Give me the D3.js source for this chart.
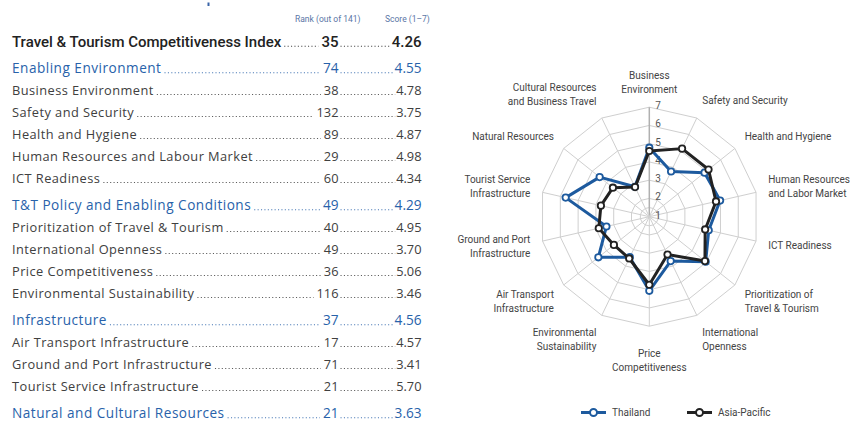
<!DOCTYPE html>
<html>
<head>
<meta charset="utf-8">
<script src="https://cdn.jsdelivr.net/npm/d3@7"></script>
<style>
  body { margin: 0; background: #fff; }
  svg { display: block; font-family: Roboto, "Open Sans", sans-serif; }
</style>
</head>
<body>
<div id="chart"></div>
<script>
// Table data
const rowLabels = ["Travel & Tourism Competitiveness Index", "Enabling Environment", "Business Environment",
    "Safety and Security", "Health and Hygiene", "Human Resources and Labour Market", "ICT Readiness",
    "T&T Policy and Enabling Conditions", "Prioritization of Travel & Tourism", "International Openness",
    "Price Competitiveness", "Environmental Sustainability", "Infrastructure", "Air Transport Infrastructure",
    "Ground and Port Infrastructure", "Tourist Service Infrastructure", "Natural and Cultural Resources"];
const rowRanks = [35, 74, 38, 132, 89, 29, 60, 49, 40, 49, 36, 116, 37, 17, 71, 21, 21];
const rowScores = ["4.26", "4.55", "4.78", "3.75", "4.87", "4.98", "4.34", "4.29", "4.95", "3.70",
    "5.06", "3.46", "4.56", "4.57", "3.41", "5.70", "3.63"];
const rowLevels = [0, 1, 2, 2, 2, 2, 2, 1, 2, 2, 2, 2, 1, 2, 2, 2, 1];

// Radar data
const radarAxes = ["Business|Environment", "Safety and Security", "Health and Hygiene",
    "Human Resources|and Labor Market", "ICT Readiness", "Prioritization of|Travel & Tourism",
    "International|Openness", "Price|Competitiveness", "Environmental|Sustainability",
    "Air Transport|Infrastructure", "Ground and Port|Infrastructure", "Tourist Service|Infrastructure",
    "Natural Resources", "Cultural Resources|and Business Travel"];
const thailand = [4.78, 3.75, 4.87, 4.98, 4.34, 4.95, 3.70, 5.06, 3.46, 4.57, 3.41, 5.70, 4.48, 2.82];
const asiaPacific = [4.60, 5.14, 5.15, 4.75, 4.14, 4.90, 3.30, 4.73, 3.54, 3.48, 3.84, 3.72, 3.55, 2.80];
const ringTicks = [1, 2, 3, 4, 5, 6, 7];

const svgWidth = 856;
const svgHeight = 421;

const blue = "#1d5a9e";
const dark = "#222";

const svg = d3.select("#chart")
    .append("svg")
    .attr("width", svgWidth)
    .attr("height", svgHeight);

// ---------- Left table ----------
const table = svg.append("g");
const labelX = 12;
const rankRight = 338.5;
const scoreRight = 421.5;

// small mark at the very top
table.append("rect")
    .attr("x", 207.5).attr("y", 2.5)
    .attr("width", 2).attr("height", 3.5)
    .attr("fill", "#3a64a8");

table.append("text")
    .attr("x", 295).attr("y", 22)
    .attr("font-size", 8.5)
    .attr("fill", "#5a76a6")
    .text("Rank (out of 141)");
table.append("text")
    .attr("x", 385).attr("y", 22)
    .attr("font-size", 8.5)
    .attr("fill", "#5a76a6")
    .text("Score (1\u20137)");

// row y positions
const rowY = [];
let yy = 41.5;
rowLevels.forEach((lv, i) => {
    if (i > 0) yy += (lv === 1 ? 27 : 22);
    rowY.push(yy);
});

const styleFor = lv => {
    if (lv === 0) return { family: "Roboto", size: 15, fill: "#222", weight: 500, ls: 0 };
    if (lv === 1) return { family: "Open Sans", size: 13.6, fill: "#2862aa", weight: 400, ls: 0.5 };
    return { family: "Open Sans", size: 12.8, fill: "#404040", weight: 400, ls: 0.45 };
};

rowLabels.forEach((lab, i) => {
    const st = styleFor(rowLevels[i]);
    const base = rowY[i] + st.size * 0.36;
    const g = table.append("g")
        .attr("font-family", st.family)
        .attr("font-size", st.size)
        .attr("font-weight", st.weight)
        .attr("letter-spacing", st.ls)
        .attr("fill", st.fill);

    const t = g.append("text").attr("x", labelX).attr("y", base).text(lab);
    const r = g.append("text").attr("x", rankRight).attr("y", base)
        .attr("text-anchor", "end").attr("letter-spacing", 0).text(rowRanks[i]);
    const s = g.append("text").attr("x", scoreRight).attr("y", base)
        .attr("text-anchor", "end").attr("letter-spacing", 0).text(rowScores[i]);

    const labEnd = labelX + t.node().getComputedTextLength();
    const rankStart = rankRight - r.node().getComputedTextLength();
    const scoreStart = scoreRight - s.node().getComputedTextLength();

    // dotted leaders
    const dots = [[labEnd + 3, rankStart - 3], [rankRight + 2, scoreStart - 1]];
    dots.forEach(([a, b]) => {
        g.append("line")
            .attr("x1", a).attr("x2", b)
            .attr("y1", base - 0.6).attr("y2", base - 0.6)
            .attr("stroke", st.fill)
            .attr("stroke-width", 1.1)
            .attr("stroke-dasharray", "1.1,2.3")
            .attr("opacity", 0.85);
    });
});

// ---------- Radar ----------
const cx = 649.3;
const cy = 216.7;
const n = radarAxes.length;
const rScale = d3.scaleLinear().domain([1, 7]).range([0, 109.5]);
const angle = i => i * 2 * Math.PI / n;

const radar = svg.append("g").attr("transform", `translate(${cx},${cy})`);

// grid rings
const ringLevels = [1.5].concat(ringTicks.slice(1));
radar.selectAll("path.ring")
    .data(ringLevels)
    .enter()
    .append("path")
    .attr("class", "ring")
    .attr("d", lv => d3.lineRadial()
        .angle((d, i) => angle(i))
        .radius(() => rScale(lv))
        .curve(d3.curveLinearClosed)(radarAxes))
    .attr("fill", "none")
    .attr("stroke", "#cfcfcf")
    .attr("stroke-width", 1);

// spokes
radar.selectAll("line.spoke")
    .data(radarAxes)
    .enter()
    .append("line")
    .attr("class", "spoke")
    .attr("x1", 0).attr("y1", 0)
    .attr("x2", (d, i) => rScale(7) * Math.sin(angle(i)))
    .attr("y2", (d, i) => -rScale(7) * Math.cos(angle(i)))
    .attr("stroke", (d, i) => i === 0 ? "#b0b0b0" : "#cfcfcf")
    .attr("stroke-width", (d, i) => i === 0 ? 1.5 : 1);

// ring values
radar.selectAll("text.tick")
    .data(ringTicks)
    .enter()
    .append("text")
    .attr("class", "tick")
    .attr("x", 6)
    .attr("y", d => -rScale(d) - 1.5)
    .attr("dy", "0.35em")
    .attr("font-size", 10)
    .attr("fill", "#555")
    .text(d => d);

// axis labels
const labelR = 122;
radarAxes.forEach((lab, i) => {
    const a = angle(i);
    const sx = Math.sin(a), cyv = -Math.cos(a);
    const lines = lab.split("|");
    const lh = 14;
    const blockH = lines.length * lh;
    const anchor = Math.abs(sx) < 0.1 ? "middle" : (sx > 0 ? "start" : "end");
    const px = labelR * sx;
    let py = labelR * cyv;
    if (i === 0) py += 2;
    if (i === n / 2) py += 8;
    // shift block depending on up/down direction
    const top = py - blockH / 2 + cyv * (blockH / 2);
    const txt = radar.append("text")
        .attr("text-anchor", anchor)
        .attr("font-size", 10)
        .attr("fill", "#444");
    lines.forEach((ln, k) => {
        txt.append("tspan")
            .attr("x", px)
            .attr("y", top + lh * k + lh / 2)
            .attr("dy", "0.35em")
            .text(ln);
    });
});

// series
const series = [
    { name: "Thailand", values: thailand, color: blue },
    { name: "Asia-Pacific", values: asiaPacific, color: dark }
];

const radarLine = d3.lineRadial()
    .angle((d, i) => angle(i))
    .radius(d => rScale(d))
    .curve(d3.curveLinearClosed);

series.forEach(s => {
    radar.append("path")
        .attr("d", radarLine(s.values))
        .attr("fill", "none")
        .attr("stroke", s.color)
        .attr("stroke-width", 3)
        .attr("stroke-linejoin", "round");
    radar.selectAll(null)
        .data(s.values)
        .enter()
        .append("circle")
        .attr("cx", (d, i) => rScale(d) * Math.sin(angle(i)))
        .attr("cy", (d, i) => -rScale(d) * Math.cos(angle(i)))
        .attr("r", 3.2)
        .attr("fill", "#fff")
        .attr("stroke", s.color)
        .attr("stroke-width", 1.8);
});

// legend
const legendX = [581, 687];
const legendY = 412.5;
const legend = svg.append("g");
series.forEach((s, i) => {
    const g = legend.append("g").attr("transform", `translate(${legendX[i]},${legendY})`);
    g.append("line")
        .attr("x1", 0).attr("x2", 25)
        .attr("stroke", s.color)
        .attr("stroke-width", 3);
    g.append("circle")
        .attr("cx", 12.5).attr("r", 3.5)
        .attr("fill", "#fff")
        .attr("stroke", s.color)
        .attr("stroke-width", 2);
    g.append("text")
        .attr("x", 31).attr("dy", "0.35em")
        .attr("font-size", 10)
        .attr("fill", "#444")
        .text(s.name);
});
</script>
</body>
</html>
